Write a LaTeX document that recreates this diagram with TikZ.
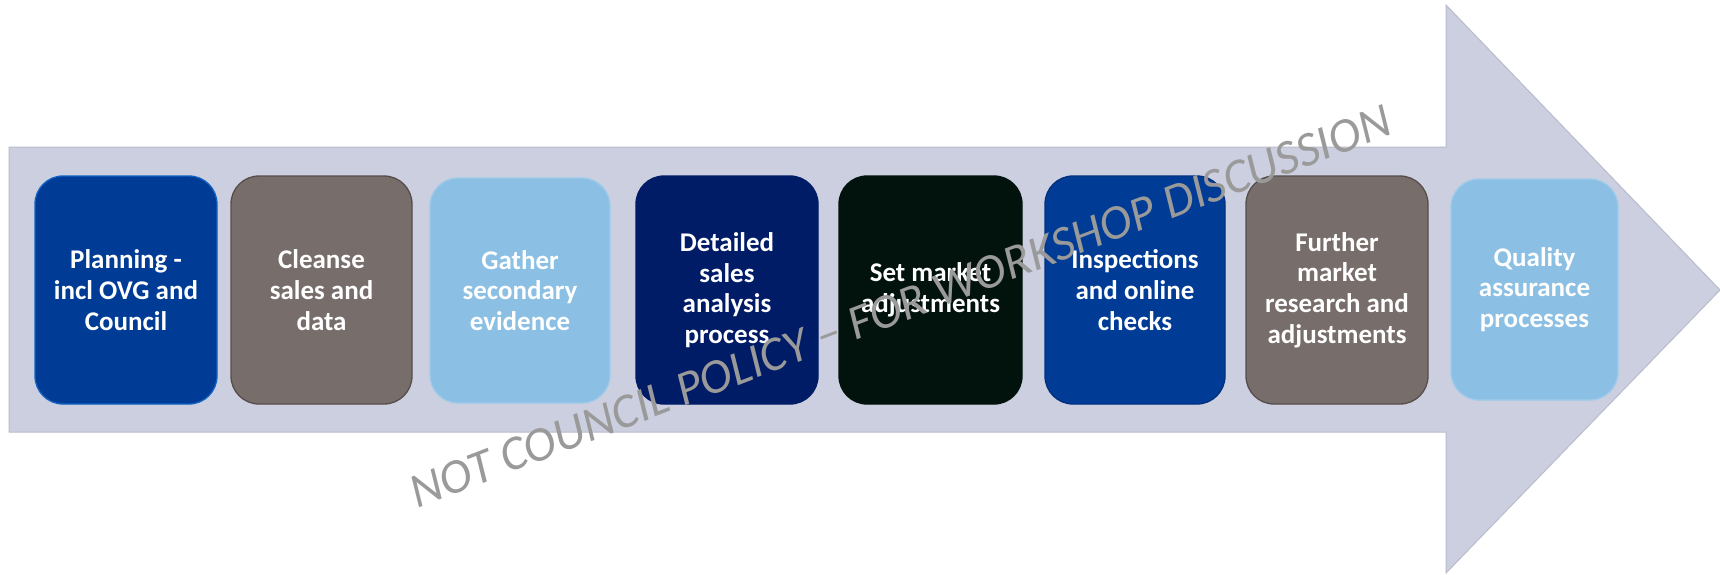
\documentclass[tikz,border=0pt]{standalone}
\usepackage{fontspec}
\setmainfont{Carlito}
\definecolor{bandfill}{HTML}{CBCFDF}
\definecolor{bandline}{HTML}{B8BCCB}
\definecolor{cblue}{HTML}{003C96}
\definecolor{cblueedgeA}{HTML}{1262C4}
\definecolor{cblueedgeB}{HTML}{00307F}
\definecolor{cgrey}{HTML}{776D6A}
\definecolor{cgreyedge}{HTML}{574D4A}
\definecolor{clight}{HTML}{8BBFE3}
\definecolor{clightedge}{HTML}{9ECBEA}
\definecolor{cnavy}{HTML}{001C66}
\definecolor{cblack}{HTML}{02130E}
\definecolor{wm}{HTML}{9A9A9A}
\begin{document}
\begin{tikzpicture}[x=1pt,y=-1pt,
  stepbox/.style={rounded corners=28pt, inner sep=0pt, line width=1.3pt,
    text=white, align=center, font=\fontsize{27}{30.7}\selectfont\bfseries},
  bandshape/.style={fill=bandfill, draw=bandline, line width=1pt}]
\useasboundingbox (0,0) rectangle (1720,574);
\fill[white] (0,0) rectangle (1720,574);
\draw[bandshape] (9,147) -- (1446,147) -- (1446,5) -- (1720,290) -- (1446,573) -- (1446,432) -- (9,432) -- cycle;
\node[stepbox, fill=cblue, draw=cblueedgeA, minimum width=182pt, minimum height=228pt] (b1) at (126,290) {Planning -\\incl OVG and\\Council};
\node[stepbox, fill=cgrey, draw=cgreyedge, minimum width=181pt, minimum height=228pt] (b2) at (321.5,290) {Cleanse\\sales and\\data};
\node[stepbox, fill=clight, draw=clightedge, minimum width=180pt, minimum height=225pt] (b3) at (520,290.5) {Gather\\secondary\\evidence};
\node[stepbox, fill=cnavy, draw=cnavy, minimum width=182pt, minimum height=228pt] (b4) at (727,290) {Detailed\\sales\\analysis\\process};
\node[stepbox, fill=cblack, draw=cblack, minimum width=183pt, minimum height=228pt] (b5) at (930.5,290) {Set market\\adjustments};
\node[stepbox, fill=cblue, draw=cblueedgeB, minimum width=180pt, minimum height=228pt] (b6) at (1135,290) {Inspections\\and online\\checks};
\node[stepbox, fill=cgrey, draw=cgreyedge, minimum width=182pt, minimum height=228pt] (b7) at (1337,290) {Further\\market\\research and\\adjustments};
\node[stepbox, fill=clight, draw=clightedge, minimum width=167pt, minimum height=221pt] (b8) at (1534.5,289.5) {Quality\\assurance\\processes};
\node[rotate=21, anchor=base, text=wm, inner sep=0pt, font=\itshape] (wmark) at (906,321) {\resizebox{1046pt}{!}{NOT COUNCIL POLICY – FOR WORKSHOP DISCUSSION}};
\end{tikzpicture}
\end{document}
